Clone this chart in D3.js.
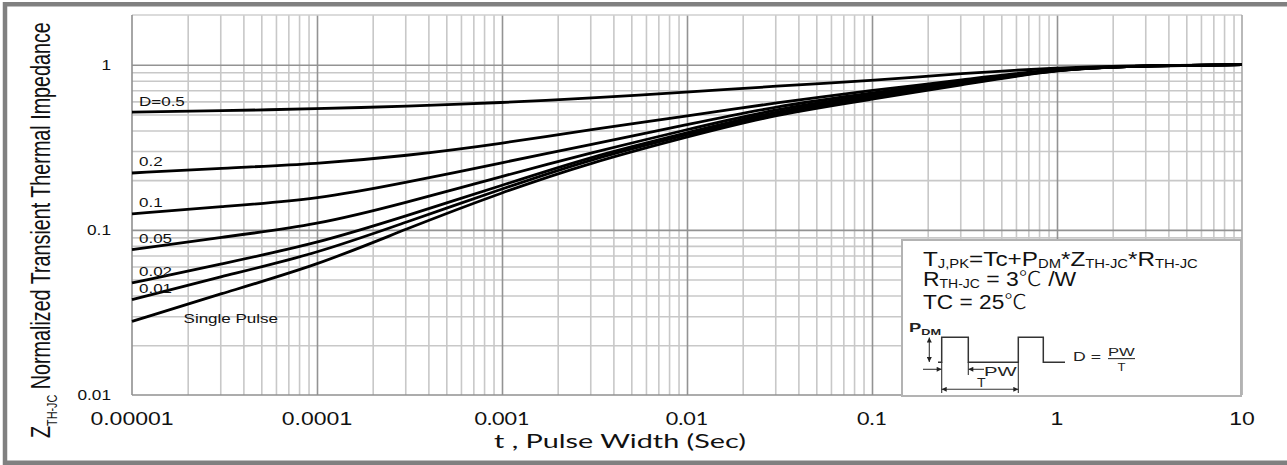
<!DOCTYPE html>
<html>
<head>
<meta charset="utf-8">
<script src="https://cdn.jsdelivr.net/npm/d3@7"></script>
<style>
  html, body { margin: 0; padding: 0; background: #fff; }
  svg { display: block; font-family: Arial, "Liberation Sans", sans-serif; }
</style>
</head>
<body>
<div id="chart"></div>
<script>
var pulseWidths = [1e-5, 3e-5, 1e-4, 3e-4, 1e-3, 3e-3, 1e-2, 3e-2, 0.1, 0.3, 1, 3, 10];

// normalized transient thermal impedance per duty cycle
var zD05    = [0.516, 0.526, 0.541, 0.560, 0.589, 0.628, 0.682, 0.742, 0.800, 0.885, 0.960, 0.990, 1.0];
var zD02    = [0.221, 0.236, 0.251, 0.280, 0.333, 0.405, 0.488, 0.588, 0.700, 0.805, 0.950, 0.985, 1.0];
var zD01    = [0.125, 0.138, 0.153, 0.193, 0.255, 0.328, 0.433, 0.560, 0.675, 0.790, 0.947, 0.985, 1.0];
var zD005   = [0.076, 0.090, 0.107, 0.146, 0.211, 0.292, 0.405, 0.540, 0.658, 0.780, 0.946, 0.985, 1.0];
var zD002   = [0.0477, 0.062, 0.0826, 0.121, 0.186, 0.277, 0.387, 0.525, 0.643, 0.770, 0.945, 0.985, 1.0];
var zD001   = [0.0378, 0.052, 0.0718, 0.111, 0.177, 0.268, 0.377, 0.515, 0.633, 0.762, 0.944, 0.985, 1.0];
var zSingle = [0.0279, 0.041, 0.0608, 0.101, 0.169, 0.255, 0.366, 0.500, 0.618, 0.752, 0.942, 0.985, 1.0];

var dutyLabels = ["D=0.5", "0.2", "0.1", "0.05", "0.02", "0.01", "Single Pulse"];

var xTicks = [1e-5, 1e-4, 1e-3, 1e-2, 0.1, 1, 10];
var xTickLabels = ["0.00001", "0.0001", "0.001", "0.01", "0.1", "1", "10"];
var yTicks = [0.01, 0.1, 1];
var yTickLabels = ["0.01", "0.1", "1"];

var W = 1287, H = 465;
var margin = {top: 15, left: 132},
    width = 1242 - 132,
    height = 395 - 15;

var svg = d3.select("#chart").append("svg")
    .attr("width", W)
    .attr("height", H);

// outer frame (top, left, bottom)
svg.append("path")
    .attr("d", "M1295,4.2H5V462.8H1295")
    .attr("fill", "none")
    .attr("stroke", "#808080")
    .attr("stroke-width", 4.5);

var x = d3.scaleLog().domain([1e-5, 10]).range([0, width]);
var y = d3.scaleLog().domain([0.01, 2]).range([height, 0]);

var g = svg.append("g")
    .attr("transform", "translate(" + margin.left + "," + margin.top + ")");

function minors(e0, e1) {
  var v = [];
  for (var e = e0; e < e1; e++)
    for (var m = 2; m <= 9; m++) v.push(m * Math.pow(10, e));
  return v;
}

function grid(sel, color) {
  sel.select(".domain").remove();
  sel.selectAll("line").attr("stroke", color).attr("stroke-width", 1.6);
}

// minor grid
g.append("g")
    .attr("transform", "translate(0," + height + ")")
    .call(d3.axisBottom(x).tickValues(minors(-5, 1)).tickSize(-height).tickFormat(""))
    .call(grid, "#c8c8c8");
g.append("g")
    .call(d3.axisLeft(y).tickValues(minors(-2, 0)).tickSize(-width).tickFormat(""))
    .call(grid, "#c8c8c8");

// decade grid
g.append("g")
    .attr("transform", "translate(0," + height + ")")
    .call(d3.axisBottom(x).tickValues([1e-4, 1e-3, 1e-2, 0.1, 1]).tickSize(-height).tickFormat(""))
    .call(grid, "#939393");
g.append("g")
    .call(d3.axisLeft(y).tickValues([0.1, 1]).tickSize(-width).tickFormat(""))
    .call(grid, "#939393");

// plot frame
g.append("line").attr("x1", 0).attr("x2", width).attr("y1", 0).attr("y2", 0)
    .attr("stroke", "#cfcfcf").attr("stroke-width", 1.6);
g.append("line").attr("x1", width).attr("x2", width).attr("y1", 0).attr("y2", height)
    .attr("stroke", "#a8a8a8").attr("stroke-width", 1.6);
g.append("line").attr("x1", 0).attr("x2", 0).attr("y1", 0).attr("y2", height)
    .attr("stroke", "#909090").attr("stroke-width", 1.6);
g.append("line").attr("x1", 0).attr("x2", width).attr("y1", height).attr("y2", height)
    .attr("stroke", "#909090").attr("stroke-width", 1.6);

// curves
var series = [zD05, zD02, zD01, zD005, zD002, zD001, zSingle].map(function(z, i) {
  return {label: dutyLabels[i], values: z.map(function(v, j) { return {t: pulseWidths[j], z: v}; })};
});

var line = d3.line()
    .x(function(d) { return x(d.t); })
    .y(function(d) { return y(d.z); })
    .curve(d3.curveBasis);

g.selectAll(".curve")
    .data(series)
  .enter().append("path")
    .attr("class", "curve")
    .attr("d", function(d) { return line(d.values); })
    .attr("fill", "none")
    .attr("stroke", "#000")
    .attr("stroke-width", 2.8)
    .attr("stroke-linejoin", "round");

// squeeze / stretch a text so it spans w pixels
function fit(t, px, py, w, sy, rot) {
  var bw = t.node().getBBox().width;
  t.attr("transform", "translate(" + px + "," + py + ")" +
      (rot ? " rotate(" + rot + ")" : "") +
      " scale(" + (w / bw) + "," + (sy || 1) + ")");
  return t;
}

function stretch(t, px, py, k) {
  t.attr("transform", "translate(" + px + "," + py + ") scale(" + k + ",1)");
  return t;
}

var cjk = "'Noto Sans CJK SC', 'Noto Sans CJK JP', sans-serif";

// text with subscripts: parts = [[string, isSub, family], ...]
function rich(t, parts, subSize, shift) {
  var down = false;
  parts.forEach(function(p) {
    var s = t.append("tspan").text(p[0]);
    if (p[2]) s.attr("font-family", p[2]).attr("font-weight", 300);
    if (p[1]) {
      s.attr("font-size", subSize).attr("dy", shift);
      down = true;
    } else if (down) {
      s.attr("dy", -shift);
      down = false;
    }
  });
  return t;
}

// curve labels
series.forEach(function(s, i) {
  var t = g.append("text")
      .attr("font-size", 12.5)
      .attr("fill", "#111")
      .text(s.label);
  if (i < series.length - 1)
    stretch(t, x(1e-5) + 7, y(s.values[0].z) - 6.5, 1.36);
  else
    stretch(t, x(1.9e-5), y(s.values[0].z) + 1.5, 1.36);
});

// y tick labels
yTicks.forEach(function(v, i) {
  var t = svg.append("text")
      .attr("font-size", 15)
      .attr("text-anchor", "end")
      .attr("dy", "0.36em")
      .attr("fill", "#111")
      .text(yTickLabels[i]);
  stretch(t, 111, margin.top + y(v), 1.15);
});

// x tick labels (mixed fonts as in the scan)
xTicks.forEach(function(v, i) {
  var calibri = (v >= 1e-3 && v <= 0.1);
  var t = svg.append("text")
      .attr("font-size", calibri ? 17 : 18)
      .attr("font-family", calibri ? "Lato, 'Open Sans', sans-serif" : null)
      .attr("text-anchor", "middle")
      .attr("fill", "#111")
      .text(xTickLabels[i]);
  stretch(t, margin.left + x(v), 424.5, calibri ? 1.27 : 1.28);
});

// x axis title
fit(svg.append("text")
    .attr("font-size", 20)
    .attr("font-family", "Lato, 'Open Sans', sans-serif")
    .attr("fill", "#111")
    .text("t , Pulse Width (Sec)"), 494, 447.5, 252);

// y axis title
fit(rich(svg.append("text").attr("font-size", 20).attr("fill", "#111"),
    [["Z", 0], ["TH-JC", 1], [" Normalized Transient Thermal Impedance", 0]], 11, 5),
    50, 438, 416, 1.36, -90);

// inset box
var box = svg.append("g");
box.append("rect")
    .attr("x", 902).attr("y", 240)
    .attr("width", 339).attr("height", 156)
    .attr("fill", "#fff")
    .attr("stroke", "#b3b3b3")
    .attr("stroke-width", 2);

fit(rich(box.append("text").attr("font-size", 20.5).attr("fill", "#111"),
    [["T", 0], ["J,PK", 1], ["=Tc+P", 0], ["DM", 1], ["*Z", 0], ["TH-JC", 1], ["*R", 0], ["TH-JC", 1]], 12.5, 2),
    923, 265.5, 275);
fit(rich(box.append("text").attr("font-size", 20.5).attr("fill", "#111"),
    [["R", 0], ["TH-JC", 1], [" = 3", 0], ["\u2103", 0, cjk], [" /W", 0]], 12.5, 2),
    923, 286, 154);
fit(rich(box.append("text").attr("font-size", 20.5).attr("fill", "#111"),
    [["TC = 25", 0], ["\u2103", 0, cjk]], 12.5, 2),
    923, 309, 104);

// pulse sketch
var defs = svg.append("defs");
defs.append("marker")
    .attr("id", "arr")
    .attr("viewBox", "0 0 10 10")
    .attr("refX", 10).attr("refY", 5)
    .attr("markerWidth", 7).attr("markerHeight", 5)
    .attr("markerUnits", "userSpaceOnUse")
    .attr("orient", "auto-start-reverse")
  .append("path")
    .attr("d", "M0,0L10,5L0,10z")
    .attr("fill", "#222");

var ink = "#333";
box.append("path")
    .attr("d", "M938,362.3H941.7V337.3H968.3V362.3H1018.3V337.3H1043.3V362.3H1065")
    .attr("fill", "none").attr("stroke", ink).attr("stroke-width", 1.5);

function seg(x1, y1, x2, y2, a0, a1) {
  var l = box.append("line")
      .attr("x1", x1).attr("y1", y1).attr("x2", x2).attr("y2", y2)
      .attr("stroke", ink).attr("stroke-width", 1.1);
  if (a0) l.attr("marker-start", "url(#arr)");
  if (a1) l.attr("marker-end", "url(#arr)");
}
seg(929.3, 337.5, 929.3, 362, true, true);
seg(923, 369.3, 941.7, 369.3, false, true);
seg(984, 369.3, 968.3, 369.3, false, true);
seg(941.7, 362.3, 941.7, 393, false, false);
seg(968.3, 362.3, 968.3, 375, false, false);
seg(1018.3, 362.3, 1018.3, 393, false, false);
seg(941.7, 389.3, 1018.3, 389.3, true, true);

fit(rich(box.append("text").attr("font-size", 13).attr("font-weight", "bold").attr("fill", "#222"),
    [["P", 0], ["DM", 1]], 9, 2.5), 909, 332, 32);
fit(box.append("text").attr("font-size", 12.5).attr("fill", "#222").text("PW"), 984, 375.5, 33);
fit(box.append("text").attr("font-size", 12.5).attr("fill", "#222").text("T"), 977, 387, 9);
fit(box.append("text").attr("font-size", 12.5).attr("fill", "#222").text("D ="), 1073, 361, 28);
fit(box.append("text").attr("font-size", 11.5).attr("fill", "#222").text("PW"), 1108, 356, 27);
box.append("line").attr("x1", 1108).attr("x2", 1135).attr("y1", 358.6).attr("y2", 358.6)
    .attr("stroke", ink).attr("stroke-width", 1.1);
fit(box.append("text").attr("font-size", 11.5).attr("fill", "#222").text("T"), 1117.5, 370.5, 8);
</script>
</body>
</html>
